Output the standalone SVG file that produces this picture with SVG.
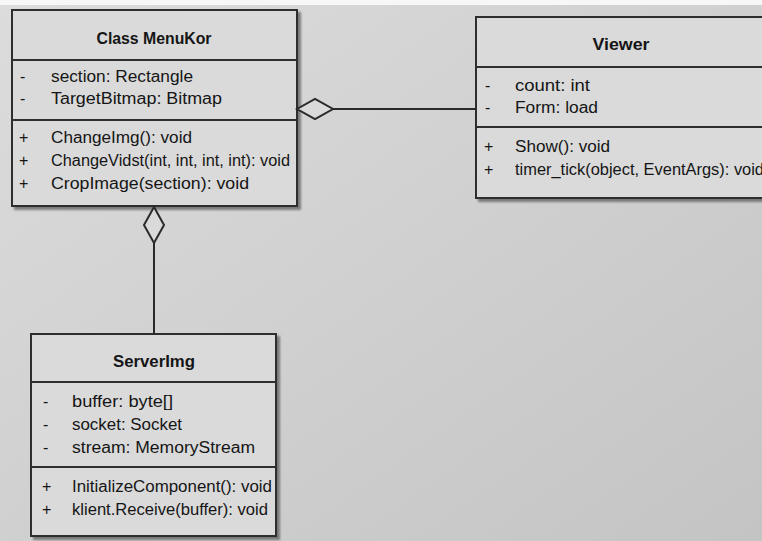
<svg xmlns="http://www.w3.org/2000/svg" width="762" height="541" viewBox="0 0 762 541">
  <defs>
    <linearGradient id="bg" x1="0" y1="0" x2="1" y2="1">
      <stop offset="0" stop-color="#dcdcdc"/>
      <stop offset="1" stop-color="#c4c4c4"/>
    </linearGradient>
    <filter id="shadow" x="-5%" y="-5%" width="115%" height="115%">
      <feDropShadow dx="3" dy="3" stdDeviation="1" flood-color="#555" flood-opacity="0.7"/>
    </filter>
  </defs>
  <style>
    .box { fill: #dadada; stroke: #2e2e2e; stroke-width: 2; }
    .sep { stroke: #2e2e2e; stroke-width: 2; }
    .title { font-family: "Liberation Sans", Arial, sans-serif; font-size: 16px; font-weight: bold; fill: #151515; text-anchor: middle; }
    .item { font-family: "Liberation Sans", Arial, sans-serif; font-size: 16px; fill: #151515; }
    .edge { fill: none; stroke: #2a2a2a; stroke-width: 2; }
    .diamond { fill: #dadada; stroke: #2a2a2a; stroke-width: 2; }
  </style>

  <!-- canvas -->
  <rect x="0" y="0" width="762" height="541" fill="url(#bg)"/>
  <rect x="0" y="0" width="762" height="5" fill="#f7f7f7"/>

  <!-- class MenuKor -->
  <g id="menukor">
    <rect class="box" x="12" y="10" width="285" height="196" filter="url(#shadow)"/>
    <line class="sep" x1="12" y1="60" x2="297" y2="60"/>
    <line class="sep" x1="12" y1="120" x2="297" y2="120"/>
    <text class="title" x="154" y="44" textLength="115" lengthAdjust="spacingAndGlyphs">Class MenuKor</text>
    <text class="item" x="20" y="82">-</text>
    <text class="item" x="51" y="82" textLength="142" lengthAdjust="spacingAndGlyphs">section: Rectangle</text>
    <text class="item" x="20" y="104">-</text>
    <text class="item" x="51" y="104" textLength="171" lengthAdjust="spacingAndGlyphs">TargetBitmap: Bitmap</text>
    <text class="item" x="19" y="143">+</text>
    <text class="item" x="51" y="143" textLength="141" lengthAdjust="spacingAndGlyphs">ChangeImg(): void</text>
    <text class="item" x="19" y="166">+</text>
    <text class="item" x="51" y="166" textLength="239" lengthAdjust="spacingAndGlyphs">ChangeVidst(int, int, int, int): void</text>
    <text class="item" x="19" y="189">+</text>
    <text class="item" x="51" y="189" textLength="198" lengthAdjust="spacingAndGlyphs">CropImage(section): void</text>
  </g>

  <!-- class Viewer -->
  <g id="viewer">
    <rect class="box" x="476" y="17" width="292" height="181" filter="url(#shadow)"/>
    <line class="sep" x1="476" y1="67" x2="768" y2="67"/>
    <line class="sep" x1="476" y1="127" x2="768" y2="127"/>
    <text class="title" x="621" y="50" textLength="57" lengthAdjust="spacingAndGlyphs">Viewer</text>
    <text class="item" x="485" y="91">-</text>
    <text class="item" x="515" y="91" textLength="75" lengthAdjust="spacingAndGlyphs">count: int</text>
    <text class="item" x="485" y="113">-</text>
    <text class="item" x="515" y="113" textLength="83" lengthAdjust="spacingAndGlyphs">Form: load</text>
    <text class="item" x="484" y="152">+</text>
    <text class="item" x="515" y="152" textLength="95" lengthAdjust="spacingAndGlyphs">Show(): void</text>
    <text class="item" x="484" y="175">+</text>
    <text class="item" x="515" y="175" textLength="249" lengthAdjust="spacingAndGlyphs">timer_tick(object, EventArgs): void</text>
  </g>

  <!-- class ServerImg -->
  <g id="serverimg">
    <rect class="box" x="31" y="334" width="245" height="202" filter="url(#shadow)"/>
    <line class="sep" x1="31" y1="382" x2="276" y2="382"/>
    <line class="sep" x1="31" y1="467" x2="276" y2="467"/>
    <text class="title" x="154" y="367" textLength="82" lengthAdjust="spacingAndGlyphs">ServerImg</text>
    <text class="item" x="43" y="407">-</text>
    <text class="item" x="72" y="407" textLength="101" lengthAdjust="spacingAndGlyphs">buffer: byte[]</text>
    <text class="item" x="43" y="430">-</text>
    <text class="item" x="72" y="430" textLength="110" lengthAdjust="spacingAndGlyphs">socket: Socket</text>
    <text class="item" x="43" y="453">-</text>
    <text class="item" x="72" y="453" textLength="183" lengthAdjust="spacingAndGlyphs">stream: MemoryStream</text>
    <text class="item" x="42" y="492">+</text>
    <text class="item" x="72" y="492" textLength="200" lengthAdjust="spacingAndGlyphs">InitializeComponent(): void</text>
    <text class="item" x="42" y="515">+</text>
    <text class="item" x="72" y="515" textLength="196" lengthAdjust="spacingAndGlyphs">klient.Receive(buffer): void</text>
  </g>

  <!-- aggregation connectors -->
  <g id="connectors">
    <line class="edge" x1="333" y1="109" x2="476" y2="109"/>
    <polygon class="diamond" points="297,109 315,99 333,109 315,119"/>
    <line class="edge" x1="154" y1="243" x2="154" y2="334"/>
    <polygon class="diamond" points="154,207 164,225 154,243 144,225"/>
  </g>
</svg>
